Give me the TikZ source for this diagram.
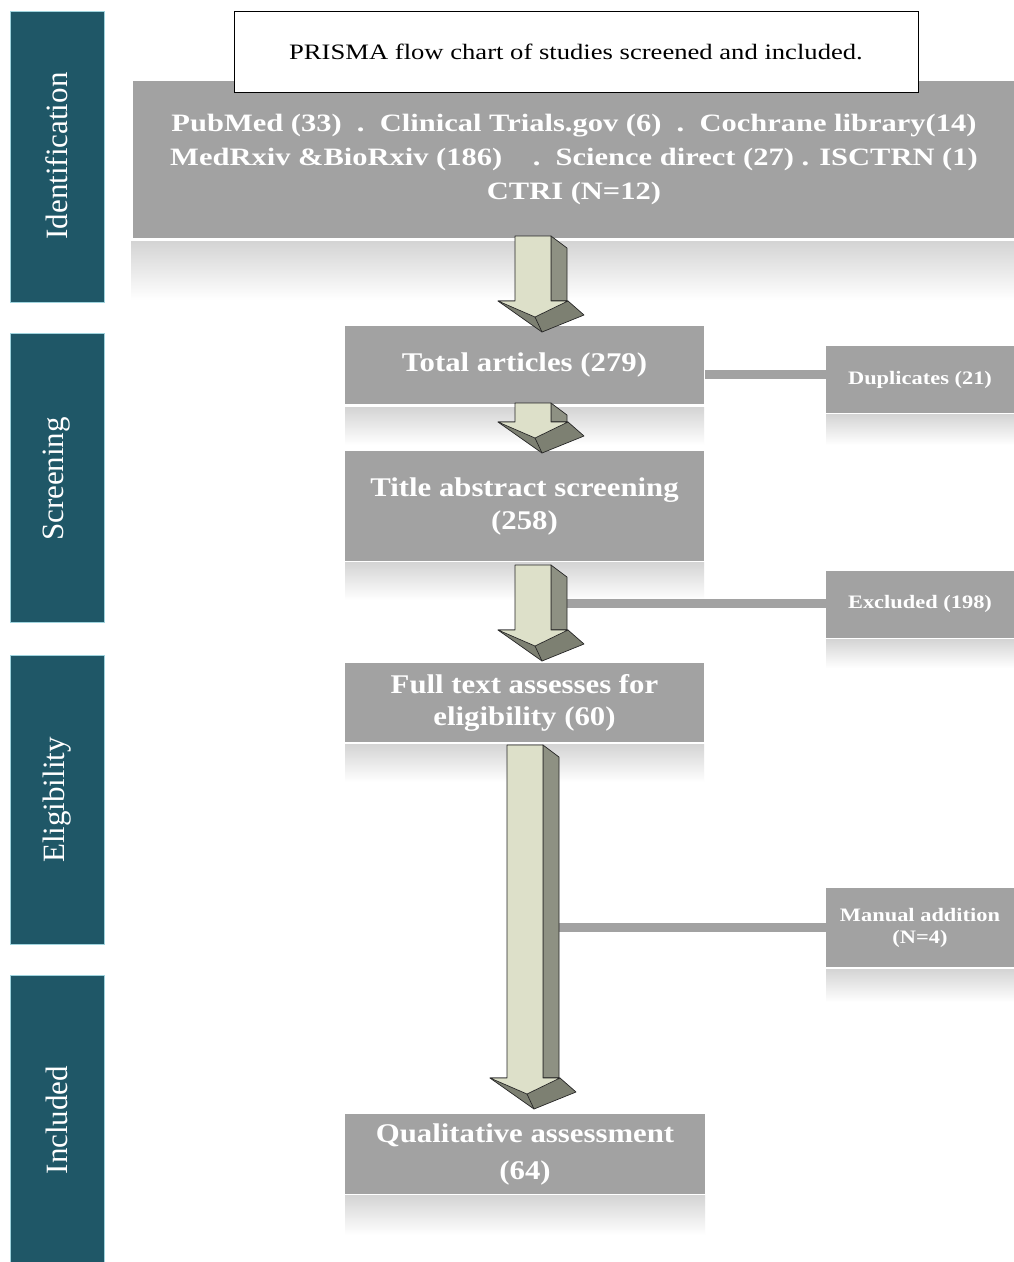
\documentclass[tikz,border=0pt]{standalone}
\usepackage{fontspec}
\setmainfont{Liberation Serif}
\newfontfamily\widetitle[FakeStretch=1.21]{Liberation Serif}
\newfontfamily\wideident[FakeStretch=1.22]{Liberation Serif}
\newfontfamily\widemain[FakeStretch=1.14]{Liberation Serif}
\newfontfamily\wideside[FakeStretch=1.18]{Liberation Serif}
\definecolor{boxgray}{HTML}{A2A2A2}
\definecolor{sideteal}{HTML}{1F5767}
\definecolor{sideedge}{HTML}{9FD3DD}
\definecolor{arrfront}{HTML}{DDE0C9}
\definecolor{arrside}{HTML}{8E9183}
\definecolor{arrunder}{HTML}{7D8072}
\tikzset{
  graybox/.style={fill=boxgray, text=white, align=center, inner sep=0pt},
  sidebox/.style={fill=sideteal, draw=sideedge, line width=0.8pt, text=white, inner sep=0pt},
  sidetext/.style={rotate=90, text=white, font=\fontsize{31}{31}\selectfont},
  conn/.style={draw=boxgray, line width=9pt},
  reflect/.style={top color=black!17, bottom color=white},
  arrline/.style={draw=black!85, line width=0.7pt, line join=round}
}
\newcommand\blockarrow[3]{%
  \filldraw[arrline, fill=arrside] (#1+36,#2) -- (#1+52,#2+12) -- (#1+52,#3) -- (#1+36,#3) -- cycle;
  \filldraw[arrline, fill=arrunder] (#1-17,#3) -- (#1+27,#3+31) -- (#1+69,#3+14) -- (#1+53,#3) -- cycle;
  \filldraw[arrline, fill=arrfront] (#1,#2) -- (#1+36,#2) -- (#1+36,#3) -- (#1+53,#3) -- (#1+20,#3+16) -- (#1-17,#3) -- (#1,#3) -- cycle;
  \draw[arrline] (#1+20,#3+16) -- (#1+27,#3+31);
}
\begin{document}
\begin{tikzpicture}[x=1pt,y=-1pt]
\useasboundingbox (0,0) rectangle (1014,1262);
\fill[white] (0,0) rectangle (1014,1262);

% side bars
\node[sidebox, minimum width=94pt, minimum height=291pt] (sIdent) at (57,156.5) {};
\node[sidetext] (tIdent) at (57,156) {Identification};
\node[sidebox, minimum width=94pt, minimum height=289pt] (sScreen) at (57,477.5) {};
\node[sidetext] (tScreen) at (57,479) {Screening};
\node[sidebox, minimum width=94pt, minimum height=289pt] (sElig) at (57,799.5) {};
\node[sidetext] (tElig) at (57,800) {Eligibility};
\node[sidebox, minimum width=94pt, minimum height=290pt] (sIncl) at (57,1120) {};
\node[sidetext] (tIncl) at (57,1120) {Included};

% reflections
\shade[reflect] (131,241) rectangle (1014,300);
\shade[reflect] (345,407) rectangle (704,445);
\shade[reflect] (345,562) rectangle (704,600);
\shade[reflect] (345,744) rectangle (704,782);
\shade[reflect] (345,1195) rectangle (705,1235);
\shade[reflect] (826,414) rectangle (1014,445);
\shade[reflect] (826,639) rectangle (1014,668);
\shade[reflect] (826,969) rectangle (1014,1002);

% identification box
\node[graybox, minimum width=883pt, minimum height=157pt, font=\wideident\bfseries\fontsize{25}{34}\selectfont] (ident) at (574,159.5)
  {PubMed (33)\ \ .\ \ Clinical Trials.gov (6)\ \ .\ \ Cochrane library(14)\\
   MedRxiv \&BioRxiv (186)\ \ \ \ .\ \ Science direct (27) . ISCTRN (1)\\
   CTRI (N=12)};
\node[draw=black, line width=0.8pt, fill=white, minimum width=684pt, minimum height=81pt, inner sep=0pt, font=\widetitle\fontsize{22}{22}\selectfont] (title) at (576,51.5)
  {PRISMA flow chart of studies screened and included.};

% main boxes
\node[graybox, minimum width=359pt, minimum height=78pt, font=\widemain\bfseries\fontsize{27}{33}\selectfont] (total) at (524.5,365) {Total articles (279)};
\node[graybox, minimum width=359pt, minimum height=110pt, font=\widemain\bfseries\fontsize{27}{33}\selectfont] (tas) at (524.5,506) {Title abstract screening\\(258)};
\node[graybox, minimum width=359pt, minimum height=79pt, font=\widemain\bfseries\fontsize{27}{32}\selectfont] (full) at (524.5,702.5) {Full text assesses for\\eligibility (60)};
\node[graybox, minimum width=360pt, minimum height=80pt, font=\widemain\bfseries\fontsize{27}{37}\selectfont] (qual) at (525,1154) {Qualitative assessment\\(64)};

% side boxes
\node[graybox, minimum width=188pt, minimum height=67pt, font=\wideside\bfseries\fontsize{19}{22}\selectfont] (dup) at (920,379.5) {Duplicates (21)};
\node[graybox, minimum width=188pt, minimum height=67pt, font=\wideside\bfseries\fontsize{19}{22}\selectfont] (excl) at (920,604) {Excluded (198)};
\node[graybox, minimum width=188pt, minimum height=79pt, font=\wideside\bfseries\fontsize{19}{22}\selectfont] (manual) at (920,927.5) {Manual addition\\(N=4)};

% connectors
\coordinate (d1) at (705,374);
\coordinate (e1) at (566,603);
\coordinate (m1) at (558,927);
\draw[conn] (d1) -- (dup.west |- d1);
\draw[conn] (e1) -- (excl.west |- e1);
\draw[conn] (m1) -- (manual.west |- m1);

% block arrows
\blockarrow{515}{236}{301}
\blockarrow{515}{403}{422}
\blockarrow{515}{565}{630}
\blockarrow{507}{745}{1078}
\end{tikzpicture}
\end{document}
